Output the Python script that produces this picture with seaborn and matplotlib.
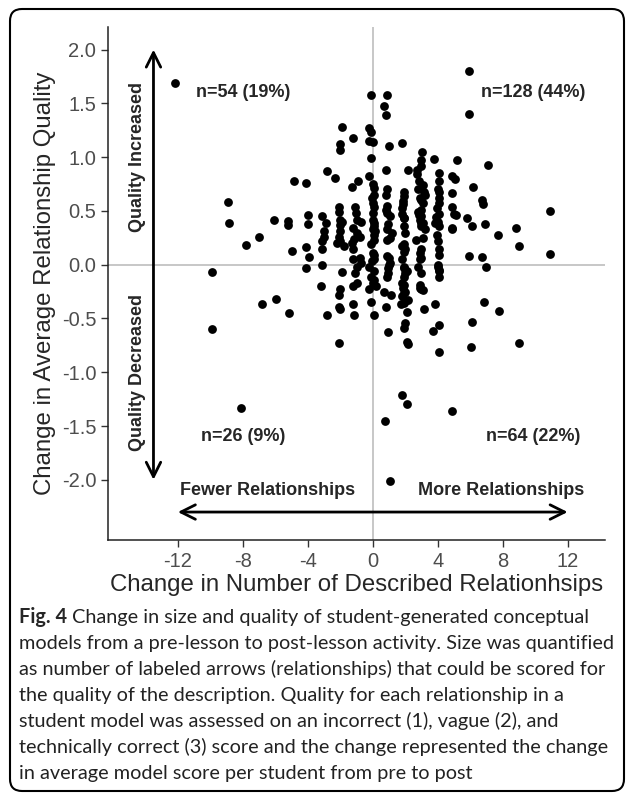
import matplotlib
matplotlib.use("Agg")
import matplotlib.pyplot as plt
import matplotlib.patches as patches
import seaborn as sns
import pandas as pd

# change in number of described relationships (x) and change in quality (y)
change_size = [
    -12.2, 5.9, 5.9, -0.1, 0.85, 0.7, 0.8, -1.9, -0.25, -0.1, -1.2, -2.0, -2.0,
    -0.2, 0.0, 1.0, 1.8, -0.1, 3.05, 3.75, 5.2, 7.1, 2.95, 2.95, 0.8, 2.2, 2.75, 2.75,
    -2.8, -2.3, -0.2, 4.1, 4.1, 4.9, 5.05, -4.85, -4.1, -0.9, -1.25,
    0.0, 0.05, 0.1, 0.9, 0.8, 1.9, 1.9, 1.85, 3.1, 3.15, 3.2, 4.0, 4.1, 4.1, 4.1,
    4.9, 6.2, 6.7, 6.8, 3.0, 3.1, 3.0, 0.0, 0.1, -8.9, -8.85, -1.1, -1.05,
    0.8, 0.9, 1.05, 1.8, 1.9, 2.8, 2.9, 2.95, 4.9, 5.1, 4.1, 10.9,
    -4.0, -4.0, -3.1, -2.9, -2.0, -1.9, -2.0, -6.1, -5.2, -5.2,
    -1.0, -0.7, 0.0, 0.1, 0.0, 0.1, 1.9, 2.0, 3.1, 3.2, 3.85, 4.1,
    5.8, 6.1, 6.9, 8.8, 7.7, 9.0, 4.9, -7.0, -7.8, -3.0, -3.1,
    -2.1, -2.0, -2.2, -1.8, -1.2, -1.0, -1.3, -1.2, -0.8,
    0.9, 1.2, 1.05, 0.1, -0.1, 1.8, 1.9, 2.65, 3.1, 3.0, 2.9, 4.1, 4.05,
    -5.0, -4.1, -3.9, -3.1, -3.1, 5.9, 6.7, 10.9, 7.0, -4.1, -9.9, -1.9,
    -1.2, -1.0, -1.1, -0.8, -0.7, 0.0, 0.1, -0.2, 0.1, -0.1,
    0.9, 1.05, 0.95, 0.9, 1.8, 1.9, 2.1, 1.9, 2.9, 2.8, 3.0,
    4.0, 4.1, 4.1,
    -3.2, -2.0, -2.1, -1.0, -1.2, 0.0, 0.2, -0.2, 0.7,
    1.8, 1.85, 1.9, 1.8, 2.15, 2.9, 3.1, -6.8, -5.95, -5.15,
    -2.8, -2.08, -2.0, -1.2, -1.15, -0.1, 0.1, 0.8, 1.75, 2.1,
    3.15, 3.85, 6.85, 7.75, 6.1, 2.0, 1.9, 4.05, -9.9, 0.97, 3.7,
    -2.1, 2.1, 2.2, 9.0, 6.05, 4.1, 1.8, 2.1, -8.1, 4.9, 0.75, 1.05,
    0.05, -0.05, 0.1, 0.15, 1.0, 0.95, 1.1, 0.85, 1.0,
    1.95, 1.9, 2.0, 1.9, 2.0, 1.9, 2.0, 1.95,
    2.95, 3.0, 2.9, 3.0, 2.95, 4.0, 3.95, 4.0, 4.05, 4.85, 5.0,
    0.0, -0.05, 0.05, 0.85, 0.95, 1.8, 1.85, 2.85, 2.8, 2.9, 2.85,
    3.95, 3.9, 4.0, -1.15, -2.1, -2.05, -2.0, -3.0,
]
change_quality = [
    1.69, 1.80, 1.40, 1.58, 1.58, 1.48, 1.39, 1.28, 1.27, 1.23, 1.18, 1.12, 1.07,
    1.15, 1.14, 1.10, 1.13, 0.99, 1.05, 0.98, 0.97, 0.93, 0.97, 0.92, 0.88, 0.88, 0.88, 0.84,
    0.87, 0.81, 0.82, 0.85, 0.78, 0.82, 0.80, 0.78, 0.76, 0.78, 0.72,
    0.75, 0.71, 0.65, 0.70, 0.65, 0.68, 0.64, 0.59, 0.74, 0.68, 0.65, 0.70, 0.68, 0.62, 0.57,
    0.67, 0.72, 0.60, 0.56, 0.60, 0.57, 0.51, 0.57, 0.54, 0.58, 0.39, 0.54, 0.48,
    0.51, 0.48, 0.45, 0.53, 0.43, 0.49, 0.42, 0.36, 0.54, 0.46, 0.47, 0.50,
    0.46, 0.38, 0.45, 0.39, 0.42, 0.40, 0.37, 0.42, 0.41, 0.37,
    0.42, 0.40, 0.42, 0.39, 0.33, 0.28, 0.36, 0.29, 0.39, 0.33, 0.39, 0.36,
    0.43, 0.36, 0.38, 0.34, 0.28, 0.17, 0.33, 0.26, 0.18, 0.26, 0.22,
    0.26, 0.22, 0.20, 0.17, 0.34, 0.29, 0.20, 0.15, 0.26,
    0.33, 0.29, 0.25, 0.23, 0.19, 0.17, 0.12, 0.23, 0.25, 0.15, 0.11, 0.15, 0.09,
    0.13, 0.16, 0.07, 0.15, 0.00, 0.08, 0.07, 0.10, -0.02, -0.03, -0.07, -0.07,
    0.05, -0.02, -0.08, 0.06, 0.02, 0.11, 0.05, -0.02, -0.06, -0.11,
    0.08, 0.02, -0.03, -0.11, 0.05, -0.02, -0.06, -0.11, 0.05, -0.02, -0.08,
    -0.02, -0.06, -0.11,
    -0.20, -0.23, -0.28, -0.17, -0.20, -0.17, -0.20, -0.23, -0.25,
    -0.17, -0.22, -0.26, -0.29, -0.33, -0.22, -0.24, -0.37, -0.32, -0.45,
    -0.47, -0.39, -0.41, -0.37, -0.47, -0.35, -0.47, -0.39, -0.37, -0.44,
    -0.41, -0.37, -0.35, -0.43, -0.53, -0.54, -0.59, -0.56, -0.60, -0.63, -0.62,
    -0.73, -0.72, -0.74, -0.73, -0.77, -0.81, -1.21, -1.30, -1.33, -1.36, -1.45, -2.01,
    0.09, 0.03, -0.14, 0.31, 0.06, -0.08, -0.28, 0.23, 0.00,
    0.43, 0.19, 0.15, -0.03, -0.08, -0.19, -0.25, -0.36,
    0.45, 0.06, -0.19, -0.23, 0.39, 0.40, 0.28, 0.00, -0.05, 0.34, 0.47,
    0.48, 0.62, 0.36, 0.55, 0.38, 0.47, 0.56, 0.78, 0.70, 0.62, 0.46,
    0.53, 0.44, 0.22, 0.24, 0.54, 0.49, 0.31, 0.31,
]

quadrant_labels = ["n=54 (19%)", "n=128 (44%)", "n=26 (9%)", "n=64 (22%)"]
quadrant_x = [-8.0, 9.9, -8.0, 9.9]
quadrant_y = [1.6, 1.6, -1.6, -1.6]

caption_lines = [
    "models from a pre-lesson to post-lesson activity. Size was quantified",
    "as number of labeled arrows (relationships) that could be scored for",
    "the quality of the description. Quality for each relationship in a",
    "student model was assessed on an incorrect (1), vague (2), and",
    "technically correct (3) score and the change represented the change",
    "in average model score per student from pre to post",
]

df = pd.DataFrame({"size": change_size, "quality": change_quality})

sns.set_style("white")
plt.rcParams["font.family"] = ["Liberation Sans", "DejaVu Sans"]
plt.rcParams["axes.unicode_minus"] = False

fig = plt.figure(figsize=(6.27, 8.01), dpi=100)
ax = fig.add_axes([108 / 627, 1 - 540 / 801, 497 / 627, 513 / 801])

ax.axhline(0, color="#BEBEBE", lw=1.2, zorder=0)
ax.axvline(0, color="#BEBEBE", lw=1.2, zorder=0)
sns.scatterplot(data=df, x="size", y="quality", color="black", s=40,
                linewidth=0, ax=ax, zorder=3)

ax.set_xlim(-16.3, 14.3)
ax.set_ylim(-2.56, 2.21)
ax.set_xticks([-12, -8, -4, 0, 4, 8, 12])
ax.set_yticks([-2.0, -1.5, -1.0, -0.5, 0.0, 0.5, 1.0, 1.5, 2.0])
ax.set_yticklabels(["-2.0", "-1.5", "-1.0", "-0.5", "0.0", "0.5", "1.0", "1.5", "2.0"])
ax.tick_params(axis="both", labelsize=14.5, labelcolor="#4D4D4D", length=5,
               width=1, color="#333333", direction="out", left=True, bottom=True)
for side in ["top", "right"]:
    ax.spines[side].set_visible(False)
for side in ["left", "bottom"]:
    ax.spines[side].set_color("#222222")
    ax.spines[side].set_linewidth(1.1)
ax.set_xlabel("Change in Number of Described Relationhsips", fontsize=17.3, labelpad=2)
ax.set_ylabel("Change in Average Relationship Quality", fontsize=17.3, labelpad=4)

bold = dict(fontweight="bold")
for lab, qx, qy in zip(quadrant_labels, quadrant_x, quadrant_y):
    ax.text(qx, qy, lab, ha="center", va="center", fontsize=13, **bold)

arrow = dict(arrowstyle="<->", lw=2, color="black", mutation_scale=26,
             shrinkA=0, shrinkB=0)
ax.annotate("", xy=(-13.5, 2.0), xytext=(-13.5, -2.0), arrowprops=arrow)
ax.annotate("", xy=(12, -2.3), xytext=(-12, -2.3), arrowprops=arrow)
ax.text(-14.5, 1.0, "Quality Increased", rotation=90, ha="center", va="center",
        fontsize=13, **bold)
ax.text(-14.5, -1.0, "Quality Decreased", rotation=90, ha="center", va="center",
        fontsize=13, **bold)
ax.text(-6.5, -2.1, "Fewer Relationships", ha="center", va="center", fontsize=13, **bold)
ax.text(7.9, -2.1, "More Relationships", ha="center", va="center", fontsize=13, **bold)

# caption under the chart
cap_font = ["Lato", "DejaVu Sans"]
cap_size = 14.3
cap_x = 19 / 627
first = fig.text(cap_x, 1 - 617 / 801, "Fig. 4", fontsize=cap_size,
                 fontweight="bold", family=cap_font, va="center")
fig.canvas.draw()
bb = first.get_window_extent()
fig.text(bb.x1 / 627 + 0.008, 1 - 617 / 801,
         "Change in size and quality of student-generated conceptual",
         fontsize=cap_size, family=cap_font, va="center", color="#222222")
for i, line in enumerate(caption_lines):
    fig.text(cap_x, 1 - (643 + i * 26) / 801, line, fontsize=cap_size,
             family=cap_font, va="center", color="#222222")

border = patches.FancyBboxPatch((10, 10), 614, 782,
                                boxstyle="round,pad=0,rounding_size=12",
                                transform=None, fill=False, lw=1.5,
                                edgecolor="black")
fig.patches.append(border)

fig.savefig("out.png", dpi=100)
